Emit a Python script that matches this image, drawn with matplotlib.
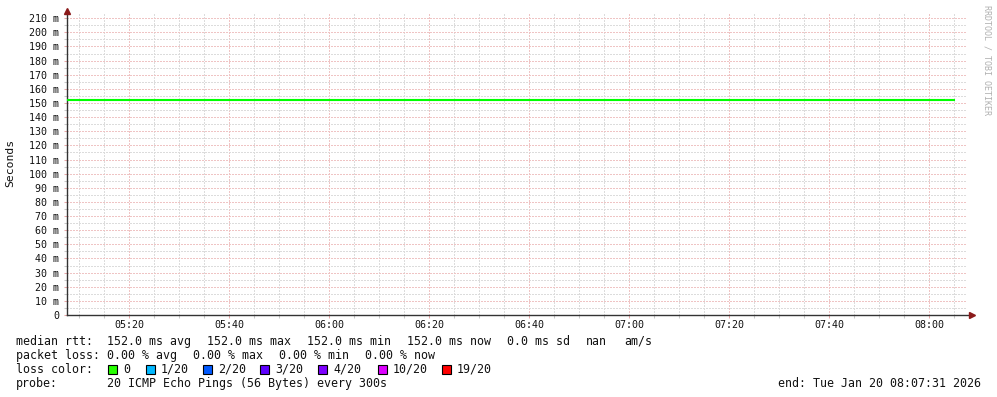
"""SmokePing-style RTT graph (RRDtool look), drawn with matplotlib."""

from datetime import datetime

import matplotlib

matplotlib.use("Agg")
import matplotlib.dates as mdates
import matplotlib.pyplot as plt
import pandas as pd
from matplotlib.patches import Rectangle
from matplotlib.ticker import FuncFormatter, MultipleLocator

W, H = 997, 397
MONO = "DejaVu Sans Mono"
plt.rcParams["font.family"] = [MONO, "DejaVu Sans"]

# --- data -------------------------------------------------------------------
start = datetime(2026, 1, 20, 5, 7, 31)
end = datetime(2026, 1, 20, 8, 7, 31)
sample_times = pd.date_range("2026-01-20 05:05", "2026-01-20 08:05", freq="300s")
median_rtt_ms = [152.0, 152.0, 152.0, 152.0, 152.0, 152.0, 152.0, 152.0, 152.0, 152.0,
                 152.0, 152.0, 152.0, 152.0, 152.0, 152.0, 152.0, 152.0, 152.0, 152.0,
                 152.0, 152.0, 152.0, 152.0, 152.0, 152.0, 152.0, 152.0, 152.0, 152.0,
                 152.0, 152.0, 152.0, 152.0, 152.0, 152.0, 152.0]

loss_labels = ["0", "1/20", "2/20", "3/20", "4/20", "10/20", "19/20"]
loss_colors = ["#26ff00", "#00b8ff", "#0059ff", "#5e00ff", "#7e00ff", "#dd00ff", "#ff0000"]

rtt_items = ["152.0 ms avg", "152.0 ms max", "152.0 ms min", "152.0 ms now",
             "0.0 ms sd", "nan", "am/s"]
loss_items = ["0.00 % avg", "0.00 % max", "0.00 % min", "0.00 % now"]
probe_text = "20 ICMP Echo Pings (56 Bytes) every 300s"
end_text = "end: Tue Jan 20 08:07:31 2026"

# --- layout helpers -----------------------------------------------------------
def fx(px):
    return px / W


def fy(py):
    return 1 - py / H


fig = plt.figure(figsize=(W / 100, H / 100), dpi=100)
left, right, top, bottom = 67, 967, 13, 315
ax = fig.add_axes([fx(left), fy(bottom), fx(right - left), (bottom - top) / H])

ax.step(sample_times, [v / 1000 for v in median_rtt_ms], where="post",
        color="#00ff00", lw=1.5, zorder=3)

ax.set_xlim(start, end)
ax.set_ylim(0, (bottom - top) / 1.4133 / 1000)

ax.xaxis.set_major_locator(mdates.MinuteLocator(byminute=[0, 20, 40]))
ax.xaxis.set_minor_locator(mdates.MinuteLocator(byminute=range(0, 60, 5)))
ax.xaxis.set_major_formatter(mdates.DateFormatter("%H:%M"))
ax.yaxis.set_major_locator(MultipleLocator(0.010))
ax.yaxis.set_minor_locator(MultipleLocator(0.005))
ax.yaxis.set_major_formatter(
    FuncFormatter(lambda v, p: "0" if abs(v) < 1e-9 else f"{round(v * 1000)} m"))

dots = (0, (1.4, 1.4))
ax.grid(which="major", color="#efc4c4", lw=0.72, ls=dots, antialiased=False)
ax.grid(which="minor", color="#dcdcdc", lw=0.72, ls=dots, antialiased=False)
ax.set_axisbelow(True)

ax.tick_params(which="both", length=2, width=0.75, labelsize=7.2,
               labelcolor="#111111")
ax.tick_params(which="major", color="#e8a8a8")
ax.tick_params(which="minor", color="#c8c8c8")
ax.tick_params(axis="x", pad=1.5)
ax.tick_params(axis="y", pad=3.5)

for s in ax.spines.values():
    s.set_visible(False)

# axes with arrow heads, RRDtool style
ax.plot([0, 0], [0, 1.0], transform=ax.transAxes, color="#333333", lw=1, clip_on=False)
ax.plot([0, 1.005], [0, 0], transform=ax.transAxes, color="#333333", lw=1, clip_on=False)
ax.plot([0], [1.008], transform=ax.transAxes, marker="^", ms=5, color="#8b1a1a",
        clip_on=False)
ax.plot([1.006], [0], transform=ax.transAxes, marker=">", ms=5, color="#8b1a1a",
        clip_on=False)

fig.text(fx(10), fy(163), "Seconds", rotation=90, ha="center", va="center",
         fontsize=8.2, color="#111111")
fig.text(fx(987), fy(5), "RRDTOOL / TOBI OETIKER", rotation=270, ha="center", va="top",
         fontsize=6, color="#b0b0b0")

# --- legend -------------------------------------------------------------------
leg = dict(fontsize=8.4, color="#111111", va="baseline", ha="left")
rows = [345, 359, 373, 387]

fig.text(fx(16), fy(rows[0]), "median rtt:", **leg)
for x, s in zip([107, 207, 307, 407, 507, 586, 624], rtt_items):
    fig.text(fx(x), fy(rows[0]), s, **leg)

fig.text(fx(16), fy(rows[1]), "packet loss:", **leg)
for x, s in zip([107, 193, 279, 365], loss_items):
    fig.text(fx(x), fy(rows[1]), s, **leg)

fig.text(fx(16), fy(rows[2]), "loss color:", **leg)
for x, s, c in zip([108, 146, 203, 260, 318, 378, 442], loss_labels, loss_colors):
    fig.patches.append(Rectangle((fx(x), fy(373.5)), fx(9), 9 / H,
                                 transform=fig.transFigure, facecolor=c,
                                 edgecolor="black", lw=0.8))
    fig.text(fx(x + 15), fy(rows[2]), s, **leg)

fig.text(fx(16), fy(rows[3]), "probe:", **leg)
fig.text(fx(107), fy(rows[3]), probe_text, **leg)
fig.text(fx(981), fy(rows[3]), end_text, **{**leg, "ha": "right"})

fig.savefig("out.png", dpi=100, facecolor="white")
